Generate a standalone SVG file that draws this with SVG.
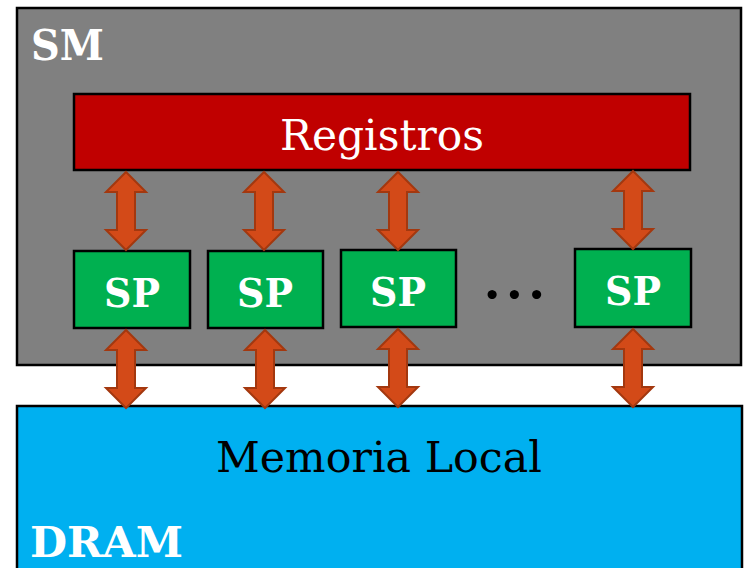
<svg xmlns="http://www.w3.org/2000/svg" width="745" height="568" viewBox="0 0 745 568">
  <style>
    .box { stroke: #000; stroke-width: 2.5; }
    .arrow { fill: #D34A18; stroke: #A3380F; stroke-width: 2; stroke-linejoin: miter; }
    .bold { font-family: "DejaVu Serif", "Liberation Serif", serif; font-weight: bold; fill: #fff; }
    .reg { font-family: "DejaVu Serif", "Liberation Serif", serif; }
    .sp { font-family: "DejaVu Serif", "Liberation Serif", serif; font-weight: bold; fill: #fff; font-size: 40px; text-anchor: middle; }
  </style>
  <defs>
    <path id="dbl" d="M0,0 L20,20 L9,20 L9,58 L20,58 L0,78 L-20,58 L-9,58 L-9,20 L-20,20 Z"/>
  </defs>
  <rect width="745" height="568" fill="#fff"/>

  <g id="sm">
    <rect class="box" x="17" y="8" width="724" height="357" fill="#808080"/>
    <text class="bold" x="31" y="60" font-size="42" textLength="73" lengthAdjust="spacingAndGlyphs">SM</text>
  </g>

  <g id="dram">
    <rect class="box" x="17" y="406" width="725" height="170" fill="#00B0F0"/>
    <text class="reg" x="379" y="472" font-size="42" text-anchor="middle" fill="#000" textLength="326" lengthAdjust="spacingAndGlyphs">Memoria Local</text>
    <text class="bold" x="30" y="557" font-size="42" textLength="153" lengthAdjust="spacingAndGlyphs">DRAM</text>
  </g>

  <g id="registros">
    <rect class="box" x="74" y="94" width="616" height="76" fill="#C00000"/>
    <text class="reg" x="382" y="150" font-size="42" text-anchor="middle" fill="#fff" textLength="204" lengthAdjust="spacingAndGlyphs">Registros</text>
  </g>

  <g id="sp1">
    <rect class="box" x="74" y="251" width="116" height="77" fill="#00B050"/>
    <text class="sp" x="132" y="307" textLength="56" lengthAdjust="spacingAndGlyphs">SP</text>
  </g>
  <g id="sp2">
    <rect class="box" x="208" y="251" width="115" height="77" fill="#00B050"/>
    <text class="sp" x="265" y="307" textLength="56" lengthAdjust="spacingAndGlyphs">SP</text>
  </g>
  <g id="sp3">
    <rect class="box" x="341" y="250" width="115" height="77" fill="#00B050"/>
    <text class="sp" x="398" y="306" textLength="56" lengthAdjust="spacingAndGlyphs">SP</text>
  </g>
  <g id="dots">
    <text x="485" y="299" font-family="Lato, sans-serif" font-weight="bold" font-size="60" letter-spacing="8" fill="#000">...</text>
  </g>
  <g id="sp4">
    <rect class="box" x="575" y="249" width="116" height="78" fill="#00B050"/>
    <text class="sp" x="633" y="305" textLength="56" lengthAdjust="spacingAndGlyphs">SP</text>
  </g>

  <g id="connectors">
    <use href="#dbl" class="arrow" x="126" y="172"/>
    <use href="#dbl" class="arrow" x="264" y="172"/>
    <use href="#dbl" class="arrow" x="398" y="172"/>
    <use href="#dbl" class="arrow" x="633" y="171"/>
    <use href="#dbl" class="arrow" x="126" y="330"/>
    <use href="#dbl" class="arrow" x="265" y="330"/>
    <use href="#dbl" class="arrow" x="398" y="329"/>
    <use href="#dbl" class="arrow" x="633" y="329"/>
  </g>
</svg>
